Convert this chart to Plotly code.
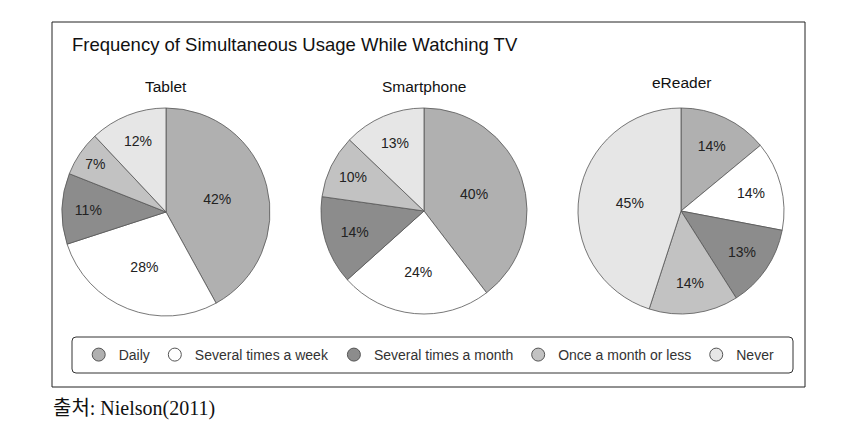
import plotly.graph_objects as go

W, H = 855, 439

categories = ["Daily", "Several times a week", "Several times a month",
              "Once a month or less", "Never"]
colors = ["#b0b0b0", "#ffffff", "#8c8c8c", "#c2c2c2", "#e6e6e6"]

devices = ["Tablet", "Smartphone", "eReader"]
tablet = [42, 28, 11, 7, 12]
smartphone = [40, 24, 14, 10, 13]
ereader = [14, 14, 13, 14, 45]
values = [tablet, smartphone, ereader]

# pixel centres / radii of each pie (x, y, r)
pies = [(166, 212, 104), (424, 211, 103), (681, 211, 103)]
title_y = [86, 86, 82]


def px_x(x):
    return x / W


def px_y(y):
    return 1 - y / H


fig = go.Figure()

for name, vals, (cx, cy, r) in zip(devices, values, pies):
    fig.add_trace(go.Pie(
        labels=categories,
        values=vals,
        name=name,
        sort=False,
        direction="clockwise",
        rotation=0,
        marker=dict(colors=colors, line=dict(color="#555555", width=0.8)),
        texttemplate="%{value}%",
        textposition="inside",
        insidetextorientation="horizontal",
        textfont=dict(size=14, color="#222222", family="Liberation Sans"),
        showlegend=False,
        hoverinfo="label+value",
        domain=dict(x=[px_x(cx - r), px_x(cx + r)],
                    y=[px_y(cy + r), px_y(cy - r)]),
    ))

# circle legend entries
for cat, col in zip(categories, colors):
    fig.add_trace(go.Scatter(
        x=[None], y=[None], mode="markers", name=cat,
        marker=dict(symbol="circle", size=13, color=col,
                    line=dict(color="#555555", width=1)),
    ))

# annotations placed in pixel units through the hidden x/y axes
annotations = [
    dict(text="Frequency of Simultaneous Usage While Watching TV",
         x=70, y=44, xref="x", yref="y", xanchor="left", yanchor="middle",
         showarrow=False, font=dict(size=18.5, color="#111111")),
    dict(text="출처: Nielson(2011)", x=51, y=408, xref="x", yref="y",
         xanchor="left", yanchor="middle", showarrow=False,
         font=dict(size=20, color="#111111",
                   family="Liberation Serif, Noto Sans CJK KR")),
]
for name, (cx, cy, r), ty in zip(devices, pies, title_y):
    annotations.append(dict(text=name, x=cx, y=ty, xref="x", yref="y",
                            xanchor="center", yanchor="middle",
                            showarrow=False,
                            font=dict(size=15.5, color="#111111")))

# rounded legend box
lx0, lx1, ly0, ly1, rr = 72, 793, 337, 373, 4
path = (f"M {lx0 + rr} {ly0} L {lx1 - rr} {ly0} Q {lx1} {ly0} {lx1} {ly0 + rr} "
        f"L {lx1} {ly1 - rr} Q {lx1} {ly1} {lx1 - rr} {ly1} "
        f"L {lx0 + rr} {ly1} Q {lx0} {ly1} {lx0} {ly1 - rr} "
        f"L {lx0} {ly0 + rr} Q {lx0} {ly0} {lx0 + rr} {ly0} Z")

fig.update_layout(
    width=W, height=H,
    margin=dict(l=0, r=0, t=0, b=0),
    paper_bgcolor="white",
    plot_bgcolor="white",
    font=dict(family="Liberation Sans, Arial, sans-serif", color="#222222"),
    xaxis=dict(visible=False, range=[0, W], domain=[0, 1], fixedrange=True),
    yaxis=dict(visible=False, range=[H, 0], domain=[0, 1], fixedrange=True),
    annotations=annotations,
    shapes=[
        dict(type="rect", xref="x", yref="y", x0=52, x1=805, y0=22, y1=387,
             line=dict(color="#222222", width=1), layer="below"),
        dict(type="path", xref="x", yref="y", path=path,
             line=dict(color="#333333", width=1), layer="below"),
    ],
    legend=dict(orientation="h", x=0.502, xanchor="center",
                y=px_y(355), yanchor="middle",
                font=dict(size=14, color="#333333"),
                bgcolor="rgba(0,0,0,0)", itemclick=False),
)

fig.write_html("out.html", config={"displayModeBar": False},
               post_script="document.body.style.margin='0px';")
